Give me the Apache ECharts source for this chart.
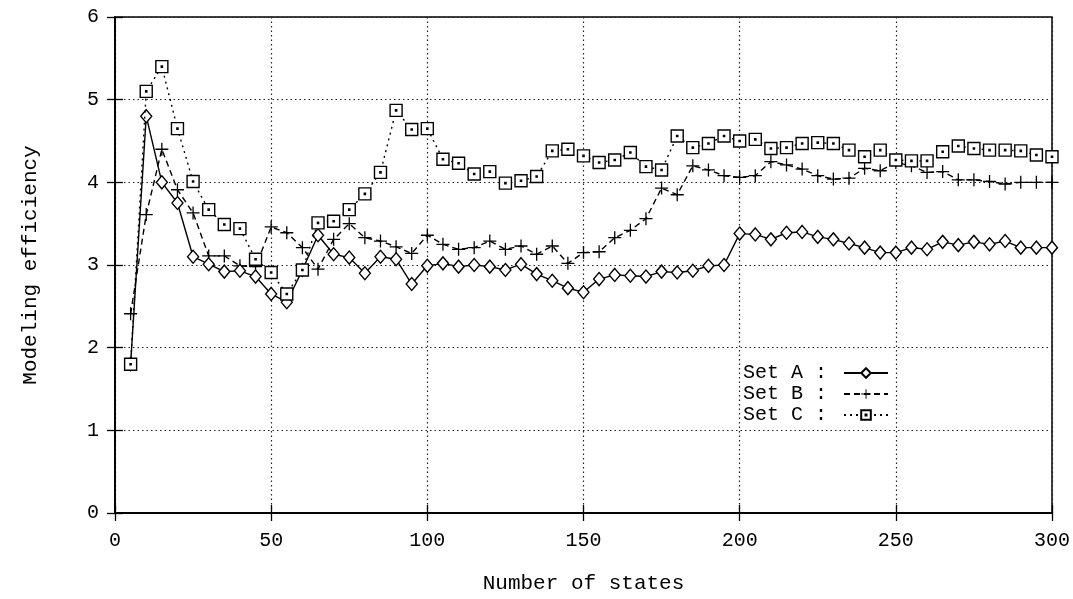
<!DOCTYPE html>
<html>
<head>
<meta charset="utf-8">
<script src="https://cdn.jsdelivr.net/npm/echarts@6/dist/echarts.min.js"></script>
<style>
html,body{margin:0;padding:0;background:#fff;}
#chart{width:1073px;height:599px;}
</style>
</head>
<body>
<div id="chart"></div>
<script>
const states = [5,10,15,20,25,30,35,40,45,50,55,60,65,70,75,80,85,90,95,100,
  105,110,115,120,125,130,135,140,145,150,155,160,165,170,175,180,185,190,195,200,
  205,210,215,220,225,230,235,240,245,250,255,260,265,270,275,280,285,290,295,300];
const setA = [1.80,4.80,4.00,3.75,3.10,3.01,2.92,2.93,2.86,2.65,2.55,2.94,3.36,3.13,3.09,2.90,3.10,3.07,2.77,2.99,
  3.02,2.98,3.00,2.98,2.94,3.01,2.89,2.81,2.72,2.67,2.83,2.88,2.87,2.86,2.92,2.91,2.93,2.99,3.00,3.38,
  3.37,3.31,3.39,3.40,3.34,3.31,3.26,3.21,3.15,3.15,3.21,3.19,3.28,3.24,3.28,3.25,3.29,3.21,3.21,3.21];
const setB = [2.41,3.61,4.40,3.91,3.63,3.11,3.11,2.99,2.98,3.46,3.39,3.21,2.95,3.31,3.50,3.33,3.29,3.22,3.14,3.36,
  3.25,3.19,3.21,3.29,3.19,3.23,3.13,3.23,3.02,3.15,3.16,3.33,3.42,3.56,3.93,3.85,4.20,4.15,4.08,4.06,
  4.08,4.25,4.21,4.16,4.08,4.04,4.05,4.17,4.14,4.24,4.20,4.12,4.13,4.03,4.03,4.01,3.98,4.00,4.00,4.00];
const setC = [1.80,5.10,5.40,4.65,4.01,3.67,3.49,3.44,3.07,2.91,2.65,2.94,3.51,3.53,3.67,3.86,4.12,4.87,4.64,4.65,
  4.28,4.23,4.10,4.13,3.99,4.02,4.07,4.38,4.40,4.32,4.24,4.27,4.36,4.19,4.15,4.56,4.42,4.47,4.56,4.50,
  4.52,4.41,4.42,4.47,4.48,4.47,4.39,4.31,4.39,4.27,4.26,4.26,4.37,4.44,4.41,4.39,4.39,4.38,4.33,4.31];
const seriesNames = ['Set A', 'Set B', 'Set C'];
const xTicks = [0, 50, 100, 150, 200, 250, 300];
const yTicks = [0, 1, 2, 3, 4, 5, 6];

const FONT = 'Liberation Mono';
const pairs = arr => states.map((s, i) => [s, arr[i]]);

const plusPath = 'path://M45,0H55V45H100V55H55V100H45V55H0V45H45Z';
const squarePath = 'path://M0,0H100V100H0Z M45,45H55V55H45Z';

const chart = echarts.init(document.getElementById('chart'), null, {renderer: 'canvas'});
const gridLine = {show: true, lineStyle: {color: '#222', width: 1.2, type: [1.5, 3]}};
chart.setOption({
  backgroundColor: '#fff',
  animation: false,
  grid: {left: 115, right: 21, top: 17, bottom: 78, show: true, borderColor: '#000', borderWidth: 1.5, backgroundColor: 'transparent'},
  legend: {
    orient: 'vertical',
    left: 738,
    top: 358,
    align: 'right',
    itemWidth: 44,
    itemHeight: 12,
    itemGap: 1,
    formatter: '{name} :',
    textStyle: {fontFamily: FONT, fontSize: 20, color: '#000', padding: [0, 12, 0, 0]},
    data: seriesNames
  },
  xAxis: [{
    type: 'value', min: 0, max: 300, interval: 50,
    name: 'Number of states', nameLocation: 'middle', nameGap: 60,
    nameTextStyle: {fontFamily: FONT, fontSize: 21, color: '#000'},
    axisLine: {show: true, lineStyle: {color: '#000', width: 1.5}},
    axisTick: {show: true, inside: true, length: 8, lineStyle: {color: '#000', width: 1.3}},
    axisLabel: {fontFamily: FONT, fontSize: 20, color: '#000', margin: 18,
      formatter: v => xTicks.includes(v) ? String(v) : ''},
    splitLine: gridLine
  }, {
    type: 'value', min: 0, max: 300, interval: 50, position: 'top',
    axisLine: {show: true, lineStyle: {color: '#000', width: 1.5}},
    axisTick: {show: true, inside: true, length: 8, lineStyle: {color: '#000', width: 1.3}},
    axisLabel: {show: false}, splitLine: {show: false}
  }],
  yAxis: [{
    type: 'value', min: 0, max: 6, interval: 1,
    name: 'Modeling efficiency', nameLocation: 'middle', nameGap: 74,
    nameTextStyle: {fontFamily: FONT, fontSize: 21, color: '#000'},
    axisLine: {show: true, lineStyle: {color: '#000', width: 1.5}},
    axisTick: {show: true, inside: true, length: 8, lineStyle: {color: '#000', width: 1.3}},
    axisLabel: {fontFamily: FONT, fontSize: 20, color: '#000', margin: 16,
      formatter: v => yTicks.includes(v) ? String(v) : ''},
    splitLine: gridLine
  }, {
    type: 'value', min: 0, max: 6, interval: 1, position: 'right',
    axisLine: {show: true, lineStyle: {color: '#000', width: 1.5}},
    axisTick: {show: true, inside: true, length: 8, lineStyle: {color: '#000', width: 1.3}},
    axisLabel: {show: false}, splitLine: {show: false}
  }],
  series: [{
    name: seriesNames[0], type: 'line', data: pairs(setA),
    xAxisIndex: 0, yAxisIndex: 0,
    symbol: 'diamond', symbolSize: [11, 13],
    lineStyle: {color: '#000', width: 1.4, type: 'solid'},
    itemStyle: {color: '#fff', borderColor: '#000', borderWidth: 1.4},
    z: 3
  }, {
    name: seriesNames[1], type: 'line', data: pairs(setB),
    xAxisIndex: 0, yAxisIndex: 0,
    symbol: plusPath, symbolSize: 13,
    lineStyle: {color: '#000', width: 1.4, type: [6, 4]},
    itemStyle: {color: '#000', borderWidth: 0},
    z: 2
  }, {
    name: seriesNames[2], type: 'line', data: pairs(setC),
    xAxisIndex: 0, yAxisIndex: 0,
    symbol: squarePath, symbolSize: 12,
    lineStyle: {color: '#000', width: 1.4, type: [2, 4]},
    itemStyle: {color: '#fff', borderColor: '#000', borderWidth: 1.4},
    z: 4
  }]
});
</script>
</body>
</html>
